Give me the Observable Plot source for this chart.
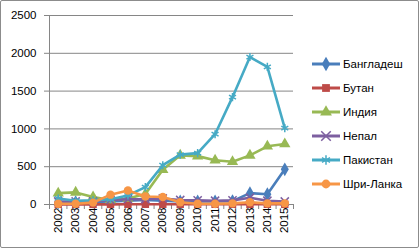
<!DOCTYPE html>
<html><head><meta charset="utf-8">
<script src="https://cdn.jsdelivr.net/npm/d3@7"></script>
<script src="https://cdn.jsdelivr.net/npm/@observablehq/plot@0.6"></script>
<style>
body{margin:0;background:#fff;}
#wrap{position:relative;width:420px;height:249px;font-family:"Liberation Sans",sans-serif;overflow:hidden;}
#wrap svg{position:absolute;left:0;top:0;}
#border{position:absolute;left:0;top:0;width:417px;height:246px;border:1px solid #8c8c8c;border-radius:2px;pointer-events:none;}
</style></head><body><div id="wrap"><div id="border"></div></div>
<script>
const years = [2002, 2003, 2004, 2005, 2006, 2007, 2008, 2009, 2010, 2011, 2012, 2013, 2014, 2015];
const bangladesh = [30, 30, 35, 40, 50, 60, 50, 40, 40, 40, 45, 150, 135, 465];
const bhutan = [2, 2, 2, 2, 3, 3, 3, 3, 3, 3, 3, 3, 3, 3];
const india = [150, 160, 100, 60, 80, 140, 460, 650, 640, 585, 565, 650, 770, 800];
const nepal = [40, 40, 40, 60, 70, 70, 80, 60, 55, 50, 55, 90, 50, 40];
const pakistan = [80, 50, 55, 70, 120, 230, 520, 660, 680, 930, 1420, 1950, 1820, 1010];
const sriLanka = [10, 10, 25, 130, 185, 105, 100, 30, 10, 10, 15, 30, 15, 15];

const seriesNames = ["Бангладеш", "Бутан", "Индия", "Непал", "Пакистан", "Шри-Ланка"];
const seriesValues = [bangladesh, bhutan, india, nepal, pakistan, sriLanka];
const colors = ["#4A7EBB", "#BE4B48", "#98B954", "#7D5FA0", "#46AAC5", "#F79646"];
const symbolNames = ["diamond", "square", "triangle", "times", "asterisk", "circle"];
const yTicks = [0, 500, 1000, 1500, 2000, 2500];

const series = seriesNames.map((name, i) => ({
  name, color: colors[i], symbol: symbolNames[i],
  rows: years.map((year, j) => ({name, year, value: seriesValues[i][j]}))
}));
const boundaries = years.concat([years[years.length - 1] + 1]).map(y => y - 0.5);
const xDomain = [boundaries[0], boundaries[boundaries.length - 1]];
const grey = "#868686";
const filled = s => !(s === "times" || s === "asterisk");

const marks = [
  Plot.gridY(yTicks, {stroke: grey, strokeOpacity: 1}),
  Plot.ruleX([xDomain[0]], {y1: 0, y2: 2500, stroke: grey}),
  Plot.axisY(yTicks, {tickSize: 5, tickPadding: 8, stroke: grey, fill: "#000", fontSize: 11.5, tickFormat: d => String(d), label: null}),
  Plot.axisX(boundaries, {tickSize: 5, tickFormat: () => "", stroke: grey, label: null}),
  Plot.axisX(years, {tickSize: 0, tickPadding: 3, tickRotate: -90, fill: "#000", fontSize: 11.5, tickFormat: d => String(d), label: null})
];
for (const s of series) {
  marks.push(Plot.line(s.rows, {x: "year", y: "value", stroke: s.color, strokeWidth: 2.6}));
  marks.push(Plot.dot(s.rows, {
    x: "year", y: "value", symbol: () => s.symbol, r: filled(s.symbol) ? 4.2 : 3.8,
    fill: filled(s.symbol) ? s.color : "none",
    stroke: filled(s.symbol) ? "none" : s.color,
    strokeWidth: 1.5
  }));
}

const chart = Plot.plot({
  width: 420, height: 249,
  marginLeft: 49, marginRight: 127, marginTop: 15, marginBottom: 45,
  style: {fontFamily: "'Liberation Sans', sans-serif", background: "transparent", overflow: "visible"},
  x: {type: "linear", domain: xDomain},
  y: {domain: [0, 2500]},
  symbol: {type: "ordinal"},
  marks
});
const wrap = document.getElementById("wrap");
wrap.insertBefore(chart, wrap.firstChild);

// legend
const symMap = {diamond: d3.symbolDiamond, square: d3.symbolSquare, triangle: d3.symbolTriangle,
  times: d3.symbolTimes, asterisk: d3.symbolAsterisk, circle: d3.symbolCircle};
const leg = d3.select(wrap).append("svg").attr("width", 420).attr("height", 249)
  .style("font-family", "'Liberation Sans', sans-serif").style("font-size", "11.5px");
const item = leg.selectAll("g").data(series).join("g")
  .attr("transform", (d, i) => `translate(312,${64 + i * 24})`);
item.append("line").attr("x1", 0).attr("x2", 28).attr("stroke", d => d.color).attr("stroke-width", 3);
item.append("path")
  .attr("transform", "translate(14,0)")
  .attr("d", d => d3.symbol(symMap[d.symbol], 4.4 * 4.4 * Math.PI)())
  .attr("fill", d => filled(d.symbol) ? d.color : "none")
  .attr("stroke", d => filled(d.symbol) ? "none" : d.color)
  .attr("stroke-width", 1.5);
item.append("text").attr("x", 31).attr("dy", "0.35em").text(d => d.name);
</script>
</body></html>
